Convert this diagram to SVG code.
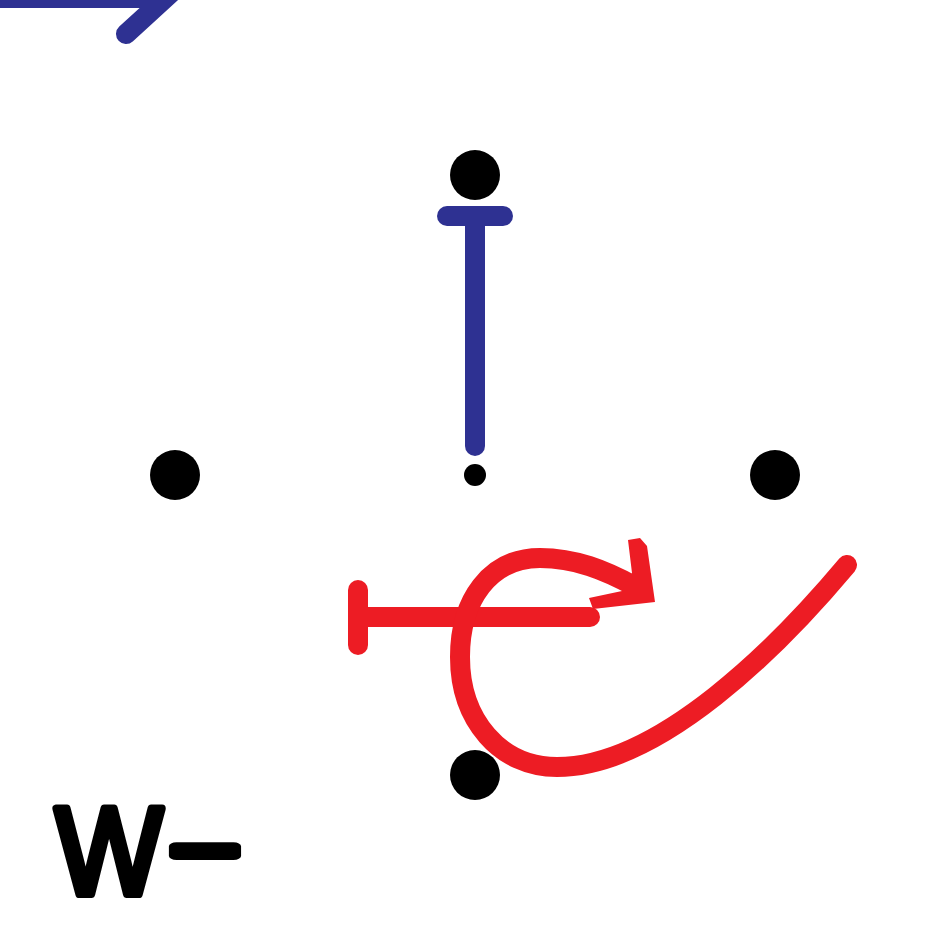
<svg xmlns="http://www.w3.org/2000/svg" width="950" height="950" viewBox="0 0 950 950">
<style>
.node{fill:#000}
.blue{stroke:#2E3192;stroke-width:20;stroke-linecap:round;fill:none}
.red{stroke:#ED1C24;stroke-width:20;stroke-linecap:round;fill:none}
.lbl{font-family:"Liberation Sans",Arial,sans-serif;font-size:125px;fill:#000;stroke:#000;stroke-width:8;stroke-linejoin:round;stroke-linecap:round}
</style>
<rect width="950" height="950" fill="#fff"/>
<g id="connectors">
<path class="blue" d="M -20,-2 L 160,-2 M 172,-8 L 126,34"/>
<path class="blue" d="M 475,225 L 475,446"/>
<path class="blue" d="M 447,216 L 503,216" stroke-width="18"/>
<path class="red" d="M 358,617 L 590,617"/>
<path class="red" d="M 358,590 L 358,645" stroke-width="17"/>
<path class="red" d="M 847,565 C 780,645 660,767 557,767 C 500,767 460,720 460,657 C 460,600 490,558 540,558 C 575,558 605,570 636,587"/>
<polygon fill="#ED1C24" points="628,540 640,538 647,546 655,602 593,609 589,598 622,591 632,573"/>
</g>
<g id="n_top"><circle class="node" cx="475" cy="175" r="25"/></g>
<g id="n_left"><circle class="node" cx="175" cy="475" r="25"/></g>
<g id="n_right"><circle class="node" cx="775" cy="475" r="25"/></g>
<g id="n_bottom"><circle class="node" cx="475" cy="775" r="25"/></g>
<g id="n_center"><circle class="node" cx="475" cy="475" r="11"/></g>
<g id="label"><text class="lbl" x="55.5" y="893.5"><tspan textLength="107" lengthAdjust="spacingAndGlyphs">W</tspan><tspan x="166" dy="-10" textLength="78" lengthAdjust="spacingAndGlyphs">-</tspan></text></g>
</svg>
